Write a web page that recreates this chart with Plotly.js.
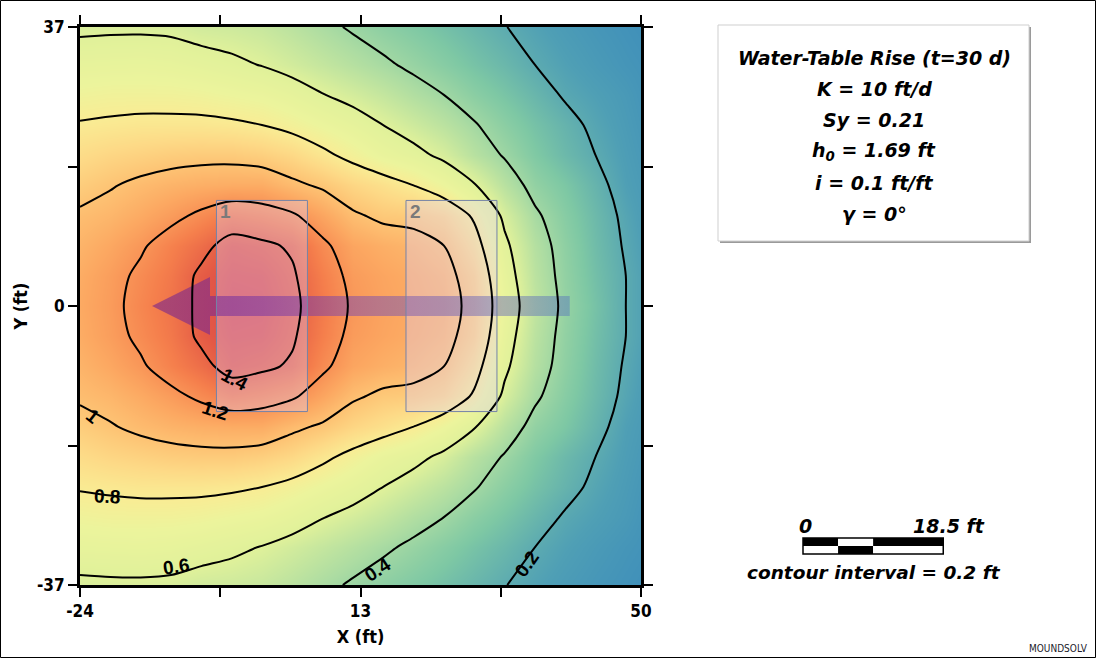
<!DOCTYPE html>
<html>
<head>
<meta charset="utf-8">
<script src="https://cdn.plot.ly/plotly-3.0.1.min.js"></script>
<style>
  html, body { margin: 0; padding: 0; background: #ffffff; }
  #chart { width: 1096px; height: 658px; }
</style>
</head>
<body>
<div id="chart"></div>
<script>
// ---------------- data ----------------
const xVals = [-24, -20, -16, -12, -8, -4, 0, 4, 8, 12, 16, 20, 24, 28, 32, 36, 40, 44, 48, 50];
const yVals = [-37, -32, -28, -24, -20, -16, -12, -8, -4, 0, 4, 8, 12, 16, 20, 24, 28, 32, 37];

// water-table rise (ft); one row per yVals entry
const rise_m37 = [0.575,0.58,0.58,0.575,0.55,0.54,0.52,0.48,0.43,0.385,0.345,0.31,0.275,0.24,0.203,0.17,0.14,0.115,0.095,0.085];
const rise_m32 = [0.67,0.675,0.68,0.67,0.65,0.625,0.595,0.555,0.51,0.465,0.42,0.375,0.33,0.285,0.245,0.20,0.165,0.135,0.11,0.10];
const rise_m28 = [0.74,0.75,0.75,0.75,0.74,0.72,0.70,0.66,0.605,0.56,0.51,0.45,0.40,0.34,0.29,0.24,0.19,0.16,0.13,0.11];
const rise_m24 = [0.81,0.82,0.83,0.83,0.83,0.82,0.80,0.76,0.71,0.66,0.60,0.54,0.48,0.41,0.34,0.28,0.23,0.18,0.14,0.12];
const rise_m20 = [0.88,0.91,0.93,0.95,0.96,0.96,0.94,0.90,0.83,0.76,0.69,0.64,0.57,0.47,0.39,0.31,0.25,0.20,0.15,0.13];
const rise_m16 = [0.95,0.99,1.03,1.06,1.08,1.09,1.09,1.03,0.98,0.91,0.86,0.80,0.72,0.61,0.47,0.36,0.30,0.23,0.16,0.14];
const rise_m12 = [1.02,1.05,1.10,1.16,1.23,1.30,1.27,1.22,1.12,1.02,0.97,0.96,0.91,0.78,0.57,0.42,0.33,0.25,0.18,0.15];
const rise_m08 = [1.06,1.11,1.18,1.27,1.355,1.46,1.43,1.38,1.23,1.12,1.08,1.05,1.00,0.86,0.63,0.46,0.35,0.26,0.19,0.16];
const rise_m04 = [1.09,1.15,1.23,1.31,1.43,1.51,1.50,1.42,1.28,1.16,1.12,1.09,1.05,0.93,0.67,0.48,0.36,0.27,0.20,0.17];
const rise_000 = [1.10,1.16,1.25,1.33,1.43,1.54,1.53,1.44,1.30,1.18,1.13,1.10,1.07,0.95,0.70,0.50,0.37,0.28,0.20,0.17];
const rise_p04 = [1.09,1.15,1.23,1.31,1.43,1.51,1.50,1.42,1.28,1.16,1.12,1.09,1.05,0.93,0.67,0.48,0.36,0.27,0.20,0.17];
const rise_p08 = [1.06,1.11,1.18,1.27,1.355,1.46,1.43,1.38,1.23,1.12,1.08,1.05,1.00,0.86,0.63,0.46,0.35,0.26,0.19,0.16];
const rise_p12 = [1.02,1.05,1.10,1.16,1.23,1.30,1.27,1.22,1.12,1.02,0.97,0.96,0.91,0.78,0.57,0.42,0.33,0.25,0.18,0.15];
const rise_p16 = [0.95,0.99,1.03,1.06,1.08,1.09,1.09,1.03,0.98,0.91,0.86,0.80,0.72,0.61,0.47,0.36,0.30,0.23,0.16,0.14];
const rise_p20 = [0.88,0.91,0.93,0.95,0.96,0.96,0.94,0.90,0.83,0.76,0.69,0.64,0.57,0.47,0.39,0.31,0.25,0.20,0.15,0.13];
const rise_p24 = [0.81,0.82,0.83,0.83,0.83,0.82,0.80,0.76,0.71,0.66,0.60,0.54,0.48,0.41,0.34,0.28,0.23,0.18,0.14,0.12];
const rise_p28 = [0.74,0.75,0.75,0.75,0.74,0.72,0.70,0.66,0.605,0.56,0.51,0.45,0.40,0.34,0.29,0.24,0.19,0.16,0.13,0.11];
const rise_p32 = [0.67,0.675,0.68,0.67,0.65,0.625,0.595,0.555,0.51,0.465,0.42,0.375,0.33,0.285,0.245,0.20,0.165,0.135,0.11,0.10];
const rise_p37 = [0.575,0.58,0.58,0.575,0.55,0.54,0.52,0.48,0.43,0.385,0.345,0.31,0.275,0.24,0.203,0.17,0.14,0.115,0.095,0.085];

const riseRows = [rise_m37, rise_m32, rise_m28, rise_m24, rise_m20, rise_m16, rise_m12, rise_m08, rise_m04,
                  rise_000, rise_p04, rise_p08, rise_p12, rise_p16, rise_p20, rise_p24, rise_p28, rise_p32, rise_p37];

// recharge areas
const areaNames = ['1', '2'];
const areaX0 = [-6, 19];
const areaX1 = [6, 31];
const areaY0 = [-14, -14];
const areaY1 = [14, 14];

// flow arrow (ft)
const arrowTail = 40.6, arrowHeadBase = -6.85, arrowTip = -14.5;
const arrowShaftHalf = 1.33, arrowHeadHalf = 3.85;

// contour labels
const labelText = ['1.4', '1.2', '1', '0.8', '0.6', '0.4', '0.2'];
const labelX = [-3.6, -6.2, -22.3, -20.4, -11.3, 15.3, 34.9];
const labelY = [-9.8, -13.9, -14.7, -25.2, -34.6, -34.9, -34.3];
const labelAngle = [28, 18, 38, 3, -8, -33, -55];

// axis ticks
const xTickVals = [-24, 13, 50];
const xTickText = ['-24', '13', '50'];
const xMinorVals = [-5.5, 31.5];
const yTickVals = [-37, 0, 37];
const yTickText = ['-37', '0', '37'];
const yMinorVals = [-18.5, 18.5];

const infoLines = [
  'Water-Table Rise (t=30 d)',
  'K = 10 ft/d',
  'Sy = 0.21',
  'h<sub>0</sub> = 1.69 ft',
  'i = 0.1 ft/ft',
  'γ = 0°'
];
const scaleBarFt = 18.5;

// ---------------- layout geometry ----------------
const FIG_W = 1096, FIG_H = 658;
const M = { l: 80, r: 455, t: 27, b: 73 };
const PW = FIG_W - M.l - M.r, PH = FIG_H - M.t - M.b;
const X_RANGE = [-24, 50], Y_RANGE = [-37, 37];
const pxPerFt = PW / (X_RANGE[1] - X_RANGE[0]);
const px2p = px => (px - M.l) / PW;
const py2p = py => (FIG_H - M.b - py) / PH;

const NARROW = '"DejaVu Sans Condensed", "Liberation Sans Narrow", "Liberation Sans", sans-serif';
const INFO = '"DejaVu Sans", "Noto Sans", sans-serif';
const LABEL = '"Liberation Sans", Arial, sans-serif';

const colorscale = [
  [0.00, '#3080bf'],
  [0.10, '#4f9fb5'],
  [0.19, '#7ec8a4'],
  [0.27, '#acdca2'],
  [0.375, '#e0f19a'],
  [0.45, '#ecf49c'],
  [0.50, '#f9ec94'],
  [0.56, '#fdd986'],
  [0.625, '#fdc273'],
  [0.69, '#fca962'],
  [0.80, '#f57f4c'],
  [0.90, '#e45a45'],
  [1.00, '#d43d4f']
];

const contourLevels = { start: 0.2, end: 1.4, size: 0.2 };

const traces = [];

// 1. colour fill
traces.push({
  type: 'contour', x: xVals, y: yVals, z: riseRows,
  zmin: 0, zmax: 1.6, colorscale: colorscale, showscale: false,
  autocontour: false,
  contours: Object.assign({ coloring: 'heatmap', showlines: false }, contourLevels),
  line: { width: 0 }, hoverinfo: 'skip'
});

// 2. recharge area fills
for (let i = 0; i < areaNames.length; i++) {
  traces.push({
    type: 'scatter', mode: 'lines',
    x: [areaX0[i], areaX1[i], areaX1[i], areaX0[i], areaX0[i]],
    y: [areaY0[i], areaY0[i], areaY1[i], areaY1[i], areaY0[i]],
    fill: 'toself', fillcolor: 'rgba(220,205,250,0.35)',
    line: { width: 0 }, hoverinfo: 'skip', showlegend: false
  });
}

// 3. flow arrow
traces.push({
  type: 'scatter', mode: 'lines',
  x: [arrowTail, arrowHeadBase, arrowHeadBase, arrowTip, arrowHeadBase, arrowHeadBase, arrowTail, arrowTail],
  y: [arrowShaftHalf, arrowShaftHalf, arrowHeadHalf, 0, -arrowHeadHalf, -arrowShaftHalf, -arrowShaftHalf, arrowShaftHalf],
  fill: 'toself',
  fillcolor: 'rgba(110,70,180,0.5)',
  fillgradient: {
    type: 'horizontal',
    colorscale: [[0, 'rgba(100,20,150,0.52)'], [0.5, 'rgba(115,70,180,0.48)'], [1, 'rgba(85,115,190,0.45)']]
  },
  line: { width: 0 }, hoverinfo: 'skip', showlegend: false
});

// 4. contour lines (overlay subplot, so they sit above the fills and the arrow)
traces.push({
  type: 'contour', x: xVals, y: yVals, z: riseRows, xaxis: 'x2', yaxis: 'y2',
  showscale: false, autocontour: false,
  contours: Object.assign({ coloring: 'none', showlines: true }, contourLevels),
  line: { color: '#000000', width: 2, smoothing: 0.8 }, hoverinfo: 'skip'
});

// ---------------- shapes ----------------
const shapes = [];
shapes.push({ type: 'rect', xref: 'paper', yref: 'paper',
  x0: px2p(0.5), x1: px2p(FIG_W - 0.5), y0: py2p(FIG_H - 0.5), y1: py2p(0.5),
  line: { color: '#000000', width: 1 }, fillcolor: 'rgba(0,0,0,0)' });

for (let i = 0; i < areaNames.length; i++) {
  shapes.push({ type: 'rect', xref: 'x', yref: 'y',
    x0: areaX0[i], x1: areaX1[i], y0: areaY0[i], y1: areaY1[i],
    line: { color: '#7583a8', width: 1 }, fillcolor: 'rgba(0,0,0,0)' });
}

const box = { l: 718, r: 1029, t: 25, b: 241 };
shapes.push({ type: 'rect', xref: 'paper', yref: 'paper',
  x0: px2p(box.l + 2), x1: px2p(box.r + 2), y0: py2p(box.b + 2), y1: py2p(box.t + 2),
  line: { width: 0 }, fillcolor: '#9a9a9a' });
shapes.push({ type: 'rect', xref: 'paper', yref: 'paper',
  x0: px2p(box.l), x1: px2p(box.r), y0: py2p(box.b), y1: py2p(box.t),
  line: { color: '#cfcfcf', width: 1 }, fillcolor: '#ffffff' });

const sbL = 803, sbT = 538, sbH = 16;
const sbLen = scaleBarFt * pxPerFt;
const segs = [[0, 0.25], [0.25, 0.5], [0.5, 1]];
segs.forEach((s, k) => {
  const topBlack = (k % 2 === 0);
  shapes.push({ type: 'rect', xref: 'paper', yref: 'paper',
    x0: px2p(sbL + s[0] * sbLen), x1: px2p(sbL + s[1] * sbLen),
    y0: py2p(sbT + sbH / 2), y1: py2p(sbT),
    line: { width: 0 }, fillcolor: topBlack ? '#000000' : '#ffffff' });
  shapes.push({ type: 'rect', xref: 'paper', yref: 'paper',
    x0: px2p(sbL + s[0] * sbLen), x1: px2p(sbL + s[1] * sbLen),
    y0: py2p(sbT + sbH), y1: py2p(sbT + sbH / 2),
    line: { width: 0 }, fillcolor: topBlack ? '#ffffff' : '#000000' });
});
shapes.push({ type: 'rect', xref: 'paper', yref: 'paper',
  x0: px2p(sbL), x1: px2p(sbL + sbLen), y0: py2p(sbT + sbH), y1: py2p(sbT),
  line: { color: '#000000', width: 1.5 }, fillcolor: 'rgba(0,0,0,0)' });

// ---------------- annotations ----------------
const annotations = [];
for (let i = 0; i < labelText.length; i++) {
  annotations.push({ x: labelX[i], y: labelY[i], xref: 'x', yref: 'y', text: labelText[i],
    showarrow: false, textangle: labelAngle[i],
    font: { family: LABEL, size: 19, color: '#000000', weight: 'bold' } });
}
for (let i = 0; i < areaNames.length; i++) {
  annotations.push({ x: areaX0[i], y: areaY1[i], xref: 'x', yref: 'y', text: areaNames[i],
    showarrow: false, xanchor: 'left', yanchor: 'top', xshift: 2, yshift: 1,
    font: { family: LABEL, size: 19, color: '#7a7a7a', weight: 'bold' } });
}
const infoY = [58, 89, 120, 152, 183, 214];
infoLines.forEach((t, i) => {
  annotations.push({ x: px2p(874), y: py2p(infoY[i]), xref: 'paper', yref: 'paper', text: t,
    showarrow: false, xanchor: 'center', yanchor: 'middle',
    font: { family: INFO, size: 19, color: '#000000', weight: 'bold', style: 'italic' } });
});
annotations.push({ x: px2p(sbL + 2), y: py2p(526), xref: 'paper', yref: 'paper', text: '0',
  showarrow: false, xanchor: 'center', yanchor: 'middle',
  font: { family: INFO, size: 19, color: '#000000', weight: 'bold', style: 'italic' } });
annotations.push({ x: px2p(911), y: py2p(526), xref: 'paper', yref: 'paper', text: '18.5 ft',
  showarrow: false, xanchor: 'left', yanchor: 'middle',
  font: { family: INFO, size: 19, color: '#000000', weight: 'bold', style: 'italic' } });
annotations.push({ x: px2p(874), y: py2p(572), xref: 'paper', yref: 'paper', text: 'contour interval = 0.2 ft',
  showarrow: false, xanchor: 'center', yanchor: 'middle',
  font: { family: INFO, size: 18.5, color: '#000000', weight: 'bold', style: 'italic' } });
annotations.push({ x: px2p(1090), y: py2p(648), xref: 'paper', yref: 'paper', text: 'MOUNDSOLV',
  showarrow: false, xanchor: 'right', yanchor: 'middle',
  font: { family: NARROW, size: 10, color: '#1a1a2a' } });

const axisCommon = {
  ticks: 'outside', ticklen: 9, tickwidth: 2, tickcolor: '#000000',
  showline: true, linewidth: 3, linecolor: '#000000', mirror: 'allticks',
  showgrid: false, zeroline: false, tickmode: 'array',
  tickfont: { family: NARROW, size: 17, color: '#000000', weight: 'bold' }
};

const layout = {
  width: FIG_W, height: FIG_H,
  margin: M,
  paper_bgcolor: '#ffffff', plot_bgcolor: '#ffffff',
  showlegend: false,
  xaxis: Object.assign({}, axisCommon, {
    range: X_RANGE, tickvals: xTickVals, ticktext: xTickText,
    minor: { tickmode: 'array', tickvals: xMinorVals, ticks: 'outside', ticklen: 9, tickwidth: 2, tickcolor: '#000000', showgrid: false },
    title: { text: 'X (ft)', standoff: 10, font: { family: NARROW, size: 18, color: '#000000', weight: 'bold' } }
  }),
  yaxis: Object.assign({}, axisCommon, {
    range: Y_RANGE, tickvals: yTickVals, ticktext: yTickText,
    minor: { tickmode: 'array', tickvals: yMinorVals, ticks: 'outside', ticklen: 9, tickwidth: 2, tickcolor: '#000000', showgrid: false },
    title: { text: 'Y (ft)', standoff: 5, font: { family: NARROW, size: 18, color: '#000000', weight: 'bold' } }
  }),
  xaxis2: { overlaying: 'x', range: X_RANGE, visible: false, showgrid: false, zeroline: false },
  yaxis2: { overlaying: 'y', range: Y_RANGE, visible: false, showgrid: false, zeroline: false },
  shapes: shapes,
  annotations: annotations
};

Plotly.newPlot('chart', traces, layout, { displayModeBar: false, staticPlot: true });
</script>
</body>
</html>
